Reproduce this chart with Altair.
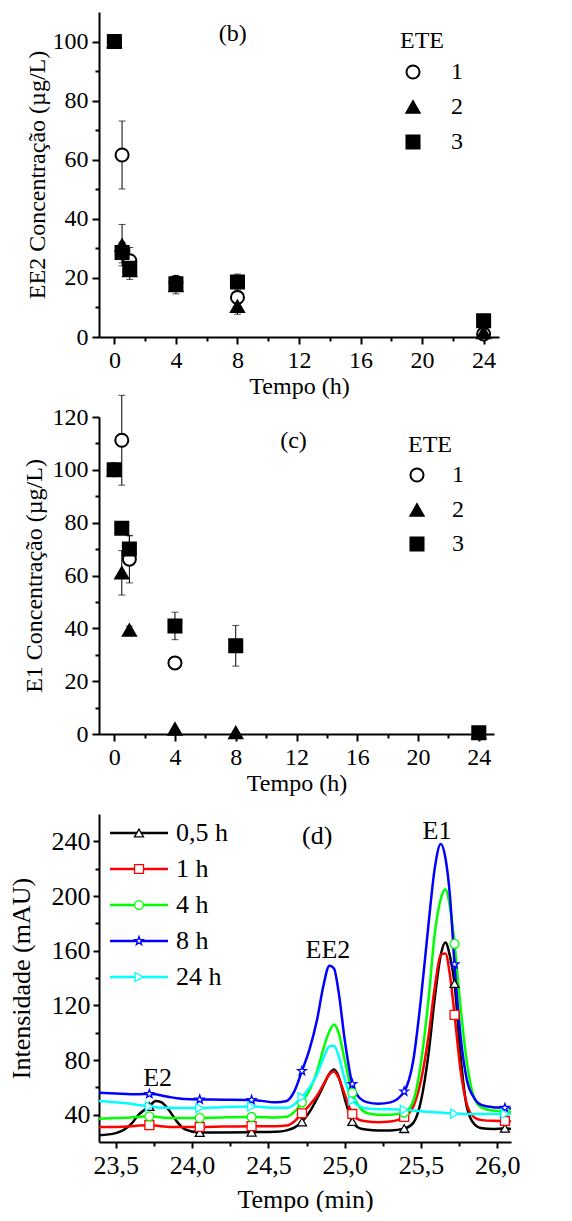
import altair as alt
import pandas as pd

FONT = "Liberation Serif"

# ---------------- (b) EE2 concentration ----------------
tempo_h = [0, 0.5, 1, 4, 8, 24]
ee2_ete1 = [100, 61.6, 25.8, 18.5, 13.4, 1.0]
ee2_ete1_err = [0, 11.5, 4.5, 1.0, 1.0, 0]
ee2_ete2 = [100, 31.1, 22.5, 17.4, 10.4, 1.5]
ee2_ete2_err = [0, 7.0, 3.0, 2.8, 2.7, 0]
ee2_ete3 = [100, 28.6, 23.3, 18.0, 18.6, 5.5]
ee2_ete3_err = [0, 3.5, 2.0, 1.0, 2.7, 0]

# ---------------- (c) E1 concentration ----------------
tempo_h_e1_ete1 = [0, 0.5, 1, 4]
e1_ete1 = [100, 111.2, 66.2, 26.9]
e1_ete1_err = [0, 17.0, 9.0, 2.0]
e1_ete2 = [100, 61.0, 39.3, 1.9, 0.5, 0.5]
e1_ete2_err = [0, 8.4, 1.5, 0, 0, 0]
e1_ete3 = [100, 77.9, 70.0, 40.9, 33.4, 0.5]
e1_ete3_err = [0, 0, 5.0, 5.2, 7.7, 0]

ete_labels = ["1", "2", "3"]

# ---------------- (d) chromatograms ----------------
tempo_min = [23.39, 23.5, 23.6, 23.65, 23.72, 23.76, 23.8, 23.85, 23.9, 23.95,
             24.05, 24.2, 24.39, 24.55, 24.62, 24.67, 24.72, 24.77, 24.82, 24.86,
             24.9, 24.93, 24.96, 25.0, 25.05, 25.1, 25.15, 25.22, 25.3, 25.39,
             25.45, 25.5, 25.55, 25.59, 25.63, 25.66, 25.69, 25.72, 25.76, 25.8,
             25.85, 25.9, 25.97, 26.05, 26.09]
int_05h = [25, 26.5, 33, 40, 46, 50, 49, 43, 35, 29.5,
           27, 27, 27.2, 27.5, 28.5, 30.5, 34.7, 42, 52, 61,
           70, 73, 68, 52, 35, 30, 29, 28.5, 28.5, 29.8,
           34, 50, 85, 125, 157, 166, 156, 136, 82, 46,
           33, 30, 29.5, 30, 29.5]
int_1h = [31, 31, 31.5, 32, 32.3, 32, 31.5, 31, 31, 31,
          31, 31.3, 31.6, 31.5, 32, 35, 41, 47, 54, 62,
          69.5, 71.5, 67, 55, 40.5, 36, 35, 34.5, 35, 38.3,
          46, 65, 98, 133, 157, 158, 142, 113, 72, 48,
          38, 36, 35.5, 35.4, 35]
int_4h = [37, 37.5, 38, 38.5, 38.8, 38.5, 38, 37.5, 37.5, 37.5,
          37.6, 38, 38.3, 38, 38.5, 42, 49, 58, 72, 88,
          101, 106, 100, 80, 56, 45, 41, 40, 40, 41.5,
          50, 78, 125, 172, 198, 205, 192, 165, 118, 79,
          52, 45, 43, 42.5, 42]
int_8h = [56, 55.5, 55, 55, 55.2, 55, 54, 53, 52, 51.5,
          51.1, 51, 50.8, 49, 50, 57, 72, 88, 110, 134,
          149, 147, 130, 95, 62.4, 52, 49, 48, 49, 57,
          80, 125, 180, 220, 238, 228, 200, 150, 97, 66,
          52, 47, 45.5, 45, 44.5]
int_24h = [50, 49, 48, 47, 46, 45.5, 45, 45, 44.8, 44.8,
           44.8, 45.5, 46, 45, 45, 47.5, 52.8, 60, 70, 81,
           90, 90.5, 83, 66, 50.4, 46, 44.5, 44, 44, 43.6,
           43, 42.5, 42, 41.8, 41.5, 41.2, 41, 40.7, 40.6, 40.5,
           40.5, 40.5, 40.5, 40.5, 40.5]
marker_min = [23.72, 24.05, 24.39, 24.72, 25.05, 25.39, 25.72, 26.05]

STAR = ("M0,-1L0.235,-0.324L0.951,-0.309L0.38,0.124L0.588,0.809L0,0.4L-0.588,0.809"
        "L-0.38,0.124L-0.951,-0.309L-0.235,-0.324Z")
series_names = ["0,5 h", "1 h", "4 h", "8 h", "24 h"]
series_colors = ["#000000", "#FF0000", "#00FF00", "#0000FF", "#00FFFF"]
series_shapes = ["triangle-up", "square", "circle", STAR, "triangle-right"]

ETE_STYLE = {"1": ("circle", "white"), "2": ("triangle-up", "black"), "3": ("square", "black")}
ONE = pd.DataFrame({"k": [0]})


def conc_frame(groups):
    rows = []
    for ete, ts, vals, errs in groups:
        for t, v, e in zip(ts, vals, errs):
            rows.append({"t": t, "v": v, "lo": v - e, "hi": v + e, "err": e, "ETE": ete})
    return pd.DataFrame(rows)


df_b = conc_frame([("1", tempo_h, ee2_ete1, ee2_ete1_err),
                   ("2", tempo_h, ee2_ete2, ee2_ete2_err),
                   ("3", tempo_h, ee2_ete3, ee2_ete3_err)])
df_c = conc_frame([("1", tempo_h_e1_ete1, e1_ete1, e1_ete1_err),
                   ("2", tempo_h, e1_ete2, e1_ete2_err),
                   ("3", tempo_h, e1_ete3, e1_ete3_err)])


def txt(s, x, y, size, align="left"):
    return alt.Chart(ONE).mark_text(text=s, font=FONT, fontSize=size, color="black", align=align,
                                    baseline="middle").encode(x=alt.value(x), y=alt.value(y))


def conc_panel(df, ytitle, ymax, ymajor, yminor, tag, tag_t, tag_v, w, h, leg, ytpad):
    xs = alt.Scale(domain=[-1, 25], nice=False, zero=False)
    ys = alt.Scale(domain=[0, ymax], nice=False, zero=False)
    xax = alt.Axis(values=[0, 4, 8, 12, 16, 20, 24], title="Tempo (h)", tickSize=7, labelPadding=4,
                   titlePadding=2, labelFontSize=24, titleFontSize=24, labelFlush=False, format="d",
                   labelOverlap=False)
    yax = alt.Axis(values=ymajor, title=ytitle, tickSize=7, labelPadding=4, titlePadding=ytpad,
                   labelFontSize=24, titleFontSize=24, format="d", labelOverlap=False)

    def X(f):
        return alt.X(f, type="quantitative", scale=xs, axis=xax)

    def Y(f):
        return alt.Y(f, type="quantitative", scale=ys, axis=yax)

    errdf = df[df["err"] > 0]
    layers = [
        alt.Chart(errdf).mark_rule(color="black", strokeWidth=1).encode(x=X("t"), y=Y("lo"), y2="hi:Q"),
        alt.Chart(errdf).mark_tick(color="black", orient="horizontal", size=7, thickness=1).encode(
            x=X("t"), y=Y("lo")),
        alt.Chart(errdf).mark_tick(color="black", orient="horizontal", size=7, thickness=1).encode(
            x=X("t"), y=Y("hi")),
    ]
    for ete in ete_labels:
        shape, fill = ETE_STYLE[ete]
        layers.append(alt.Chart(df[df["ETE"] == ete]).mark_point(
            shape=shape, filled=True, fill=fill, stroke="black", strokeWidth=2, size=170, opacity=1
        ).encode(x=X("t"), y=Y("v")))
    layers.append(alt.Chart(pd.DataFrame({"t": [tag_t], "v": [tag_v], "s": [tag]})).mark_text(
        font=FONT, fontSize=24, color="black", baseline="middle").encode(x=X("t"), y=Y("v"), text="s:N"))
    # legend
    tx, ty, sx, lx, rows = leg
    layers.append(txt("ETE", tx, ty, 24))
    for ete, ry in zip(ete_labels, rows):
        shape, fill = ETE_STYLE[ete]
        layers.append(alt.Chart(ONE).mark_point(shape=shape, filled=True, fill=fill, stroke="black",
                                                strokeWidth=2, size=170, opacity=1).encode(
            x=alt.value(sx), y=alt.value(ry)))
        layers.append(txt(ete, lx, ry, 24))
    main = alt.layer(*layers)
    minor = alt.Chart(df).mark_point(opacity=0).encode(
        x=alt.X("t:Q", scale=xs, axis=alt.Axis(values=[2, 6, 10, 14, 18, 22], labels=False, tickSize=4,
                                                domain=False, title=None, orient="bottom", grid=False)),
        y=alt.Y("v:Q", scale=ys, axis=alt.Axis(values=yminor, labels=False, tickSize=4, domain=False,
                                                title=None, orient="left", grid=False)),
    )
    return alt.layer(main, minor).resolve_axis(x="independent", y="independent").properties(width=w, height=h)


panel_b = conc_panel(df_b, "EE2 Concentração (µg/L)", 110, [0, 20, 40, 60, 80, 100], [10, 30, 50, 70, 90],
                     "(b)", 7.7, 102.6, 400, 325, (301, 29, 314, 352, [60, 95, 130]), 3)
panel_c = conc_panel(df_c, "E1 Concentração (µg/L)", 120, [0, 20, 40, 60, 80, 100, 120],
                     [10, 30, 50, 70, 90, 110], "(c)", 11.8, 110.8, 395, 317,
                     (309, 28, 318, 353, [58, 93, 127]), 6)

# ---------------- panel d ----------------
rows = []
for name, vals in zip(series_names, [int_05h, int_1h, int_4h, int_8h, int_24h]):
    for t, v in zip(tempo_min, vals):
        rows.append({"t": t, "v": v, "Série": name})
df_d = pd.DataFrame(rows)

xs_d = alt.Scale(domain=[23.39, 26.09], nice=False, zero=False)
ys_d = alt.Scale(domain=[20, 260], nice=False, zero=False)
xax_d = alt.Axis(values=[23.5, 24, 24.5, 25, 25.5, 26],
                 labelExpr="replace(format(datum.value, '.1f'), '.', ',')",
                 title="Tempo (min)", tickSize=6, labelPadding=4, titlePadding=8, labelFontSize=26,
                 titleFontSize=26, labelFlush=False, labelOverlap=False)
yax_d = alt.Axis(values=[40, 80, 120, 160, 200, 240], title="Intensidade (mAU)", tickSize=6, labelPadding=3,
                 titlePadding=17, labelFontSize=26, titleFontSize=26, labelOverlap=False)


def Xd(f):
    return alt.X(f, type="quantitative", scale=xs_d, axis=xax_d)


def Yd(f):
    return alt.Y(f, type="quantitative", scale=ys_d, axis=yax_d)


layers_d = [
    alt.Chart(df_d).mark_line(interpolate="monotone", strokeWidth=2.5).encode(
        x=Xd("t"), y=Yd("v"),
        color=alt.Color("Série:N", scale=alt.Scale(domain=series_names, range=series_colors), legend=None),
    )
]
for name, col, shp in zip(series_names, series_colors, series_shapes):
    layers_d.append(alt.Chart(df_d[df_d["Série"] == name]).transform_filter(
        alt.FieldOneOfPredicate(field="t", oneOf=marker_min)
    ).mark_point(shape=shp, filled=True, fill="white", stroke=col, size=80, strokeWidth=1.3, opacity=1).encode(
        x=Xd("t"), y=Yd("v")))
layers_d.append(alt.Chart(pd.DataFrame({
    "t": [24.82, 25.605, 24.89, 23.774],
    "v": [243.8, 247.2, 160.4, 67.0],
    "s": ["(d)", "E1", "EE2", "E2"],
})).mark_text(font=FONT, fontSize=26, color="black", baseline="middle").encode(
    x=Xd("t"), y=Yd("v"), text="s:N"))
# legend of panel d
for i, (name, col, shp) in enumerate(zip(series_names, series_colors, series_shapes)):
    ry = 19 + 36 * i
    layers_d.append(alt.Chart(ONE).mark_rule(color=col, strokeWidth=2.5).encode(
        x=alt.value(11), x2=alt.value(69), y=alt.value(ry)))
    layers_d.append(alt.Chart(ONE).mark_point(shape=shp, filled=True, fill="white", stroke=col, size=80,
                                              strokeWidth=1.3, opacity=1).encode(
        x=alt.value(40), y=alt.value(ry)))
    layers_d.append(txt(name, 77, ry, 26))

main_d = alt.layer(*layers_d)
minor_d = alt.Chart(df_d).mark_point(opacity=0).encode(
    x=alt.X("t:Q", scale=xs_d, axis=alt.Axis(values=[23.75, 24.25, 24.75, 25.25, 25.75], labels=False,
                                               tickSize=4, domain=False, title=None, orient="bottom", grid=False)),
    y=alt.Y("v:Q", scale=ys_d, axis=alt.Axis(values=[60, 100, 140, 180, 220], labels=False, tickSize=4,
                                               domain=False, title=None, orient="left", grid=False)),
)
panel_d = alt.layer(main_d, minor_d).resolve_axis(x="independent", y="independent").properties(
    width=412, height=328)

chart = alt.vconcat(panel_b, panel_c, panel_d, spacing=80, bounds="flush").properties(
    padding={"left": 0, "top": 4, "right": 5, "bottom": 0}
).configure_view(stroke=None).configure_axis(
    domainColor="black", domainWidth=2, tickColor="black", tickWidth=2, labelColor="black",
    titleColor="black", labelFont=FONT, titleFont=FONT, titleFontWeight="normal", grid=False
)

chart.save("out.html", embed_options={"renderer": "svg", "actions": False})
